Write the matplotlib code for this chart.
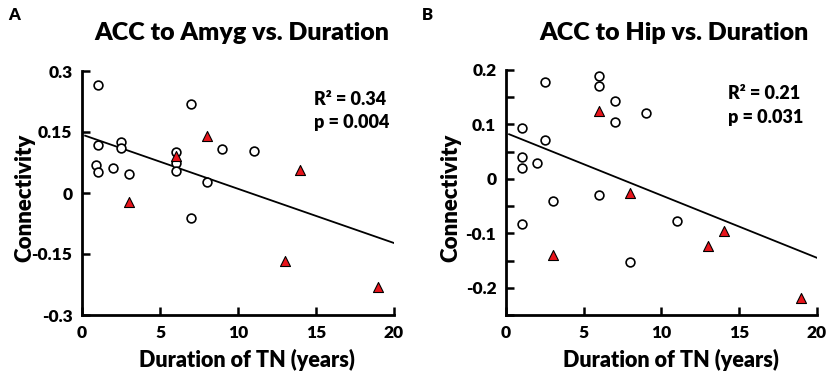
import numpy as np
import matplotlib.pyplot as plt

plt.rcParams['font.family'] = ['Lato', 'DejaVu Sans']
plt.rcParams['font.weight'] = 'heavy'
W = 'heavy'

# panel A: ACC to Amyg
a_circ_x = [1, 7, 1, 2.5, 2.5, 6, 9, 11, 0.9, 1, 2, 3, 6, 6, 8, 7]
a_circ_y = [0.265, 0.219, 0.117, 0.125, 0.111, 0.100, 0.107, 0.104,
            0.069, 0.052, 0.061, 0.046, 0.074, 0.053, 0.026, -0.062]
a_tri_x = [8, 6, 3, 14, 13, 19]
a_tri_y = [0.140, 0.091, -0.022, 0.056, -0.168, -0.230]
a_fit_x = [0.2, 20]
a_fit_y = [0.141, -0.123]

# panel B: ACC to Hip
b_circ_x = [6, 6, 2.5, 7, 7, 9, 1, 2.5, 1, 1, 2, 3, 6, 1, 11, 8]
b_circ_y = [0.189, 0.170, 0.178, 0.143, 0.105, 0.121, 0.094, 0.071,
            0.041, 0.020, 0.030, -0.041, -0.030, -0.082, -0.078, -0.152]
b_tri_x = [6, 8, 3, 14, 13, 19]
b_tri_y = [0.125, -0.025, -0.139, -0.095, -0.124, -0.219]
b_fit_x = [0.2, 20]
b_fit_y = [0.082, -0.145]

x_ticks = [0, 5, 10, 15, 20]

fig = plt.figure(figsize=(8.29, 3.78), dpi=100)
axA = fig.add_axes([82/829, 63/378, 312/829, 244/378])
axB = fig.add_axes([506/829, 63/378, 311/829, 245/378])


def draw(ax, cx, cy, tx, ty, fx, fy):
    ax.plot(fx, fy, color='black', lw=1.3, zorder=1)
    ax.scatter(cx, cy, s=40, facecolor='white', edgecolor='black', linewidths=1.2, zorder=3)
    ax.scatter(tx, ty, marker='^', s=52, facecolor='#e8141b', edgecolor='black', linewidths=0.8, zorder=3)
    for s in ['top', 'right']:
        ax.spines[s].set_visible(False)
    for s in ['left', 'bottom']:
        ax.spines[s].set_linewidth(2)
    ax.tick_params(direction='in', length=6, width=1.8, pad=7, labelsize=12.5)
    ax.set_xlim(0, 20)
    ax.set_xticks(x_ticks)
    ax.set_xticklabels([str(t) for t in x_ticks], fontweight=W)
    ax.set_xlabel('Duration of TN (years)', fontsize=15.5, fontweight=W)
    ax.set_ylabel('Connectivity', fontsize=16, fontweight=W)
    ax.xaxis.set_label_coords(0.53, -0.14)


draw(axA, a_circ_x, a_circ_y, a_tri_x, a_tri_y, a_fit_x, a_fit_y)
axA.set_ylim(-0.3, 0.3)
axA.set_yticks([0.3, 0.15, 0, -0.15, -0.3])
axA.set_yticklabels(['0.3', '0.15', '0', '-0.15', '-0.3'], fontweight=W)
axA.yaxis.set_label_coords(-0.15, 0.48)
axA.text(0.745, 0.885, 'R² = 0.34', transform=axA.transAxes, fontsize=13, fontweight=W, va='center')
axA.text(0.745, 0.790, 'p = 0.004', transform=axA.transAxes, fontsize=13, fontweight=W, va='center')

draw(axB, b_circ_x, b_circ_y, b_tri_x, b_tri_y, b_fit_x, b_fit_y)
axB.set_ylim(-0.25, 0.2)
yt = np.round(np.arange(-0.25, 0.201, 0.05), 2)
axB.set_yticks(yt)
axB.set_yticklabels([('0' if t == 0 else f'{t:.1f}') if abs(round(t * 10) - t * 10) < 1e-6 else '' for t in yt],
                    fontweight=W)
axB.yaxis.set_label_coords(-0.143, 0.48)
axB.text(0.715, 0.905, 'R² = 0.21', transform=axB.transAxes, fontsize=13, fontweight=W, va='center')
axB.text(0.715, 0.808, 'p = 0.031', transform=axB.transAxes, fontsize=13, fontweight=W, va='center')

fig.text(242/829, 1 - 33/378, 'ACC to Amyg vs. Duration', ha='center', va='center', fontsize=18, fontweight=W)
fig.text(674/829, 1 - 33/378, 'ACC to Hip vs. Duration', ha='center', va='center', fontsize=18, fontweight=W)
fig.text(14/829, 1 - 15/378, 'A', ha='center', va='center', fontsize=12, fontweight=W)
fig.text(427/829, 1 - 15/378, 'B', ha='center', va='center', fontsize=12, fontweight=W)

fig.savefig('out.png', dpi=100)
